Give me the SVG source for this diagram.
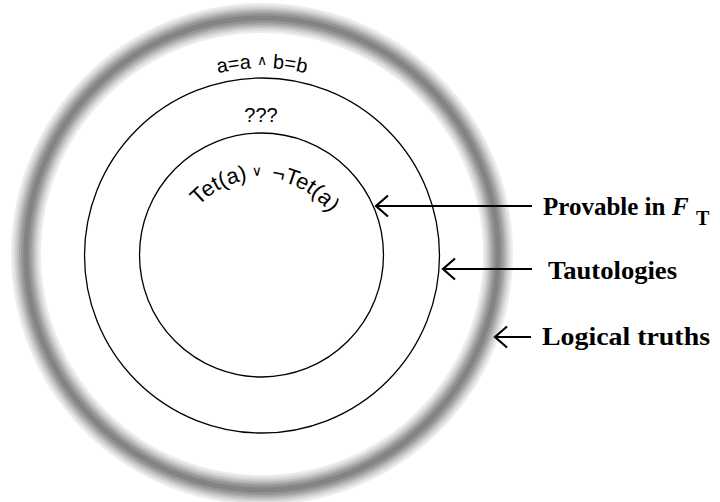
<svg xmlns="http://www.w3.org/2000/svg" width="720" height="502" viewBox="0 0 720 502">
<style>
.ring{fill:none}
.set{fill:none;stroke:#000;stroke-width:1.3}
.arr{fill:none;stroke:#000;stroke-width:2.2}
.in{font-family:"Liberation Sans",Arial,sans-serif;font-size:20px;fill:#000}
.tt{font-family:"Liberation Sans",Arial,sans-serif;font-size:22px;fill:#000}
.op{font-size:14px}
.lbl{font-family:"Liberation Serif","Times New Roman",serif;font-weight:bold;font-size:25px;fill:#000}
</style>
<defs>
<marker id="chev" markerUnits="userSpaceOnUse" markerWidth="30" markerHeight="30" viewBox="-15 -15 30 30" refX="0" refY="0" orient="auto">
<path d="M-12,-10.5 L0,0 L-12,10.5" fill="none" stroke="#000" stroke-width="2.2"/>
</marker>
<path id="arcA" d="M74,256 A188,188 0 0 1 450,256"/>
<path id="arcT" d="M175,265 A86,86 0 0 1 347,265"/>
</defs>
<g id="logical-truths">
<circle class="ring" cx="262" cy="254" r="236" stroke="#ededed" stroke-width="30"/>
<circle class="ring" cx="262" cy="254" r="236" stroke="#e0e0e0" stroke-width="26"/>
<circle class="ring" cx="262" cy="254" r="236" stroke="#cfcfcf" stroke-width="22"/>
<circle class="ring" cx="262" cy="254" r="236" stroke="#bcbcbc" stroke-width="18"/>
<circle class="ring" cx="262" cy="254" r="236" stroke="#a8a8a8" stroke-width="14"/>
<circle class="ring" cx="262" cy="254" r="236" stroke="#959595" stroke-width="10"/>
<circle class="ring" cx="262" cy="254" r="236" stroke="#848484" stroke-width="5"/>
<text class="in"><textPath href="#arcA" startOffset="50%" text-anchor="middle">a=a <tspan class="op" baseline-shift="3">∧</tspan> b=b</textPath></text>
</g>
<g id="tautologies">
<circle class="set" cx="262" cy="255.5" r="177.5"/>
<text class="in" x="261" y="122" text-anchor="middle">???</text>
</g>
<g id="provable">
<circle class="set" cx="261.5" cy="255" r="122"/>
<text class="tt"><textPath href="#arcT" startOffset="65">Tet(a)</textPath></text>
<text class="tt op"><textPath href="#arcT" startOffset="131" text-anchor="middle" baseline-shift="3">∨</textPath></text>
<text class="tt"><textPath href="#arcT" startOffset="214" text-anchor="end">¬Tet(a)</textPath></text>
</g>
<g id="connectors">
<line class="arr" x1="532" y1="206" x2="376" y2="206" marker-end="url(#chev)"/>
<line class="arr" x1="532" y1="269" x2="443" y2="269" marker-end="url(#chev)"/>
<line class="arr" x1="531" y1="337" x2="495" y2="337" marker-end="url(#chev)"/>
</g>
<g id="labels">
<text class="lbl" x="543" y="215">Provable in <tspan x="672" font-style="italic">F</tspan><tspan x="696" dy="10" font-size="20">T</tspan></text>
<text class="lbl" x="548" y="279" textLength="129" lengthAdjust="spacingAndGlyphs">Tautologies</text>
<text class="lbl" x="542" y="345" textLength="168" lengthAdjust="spacingAndGlyphs">Logical truths</text>
</g>
</svg>
